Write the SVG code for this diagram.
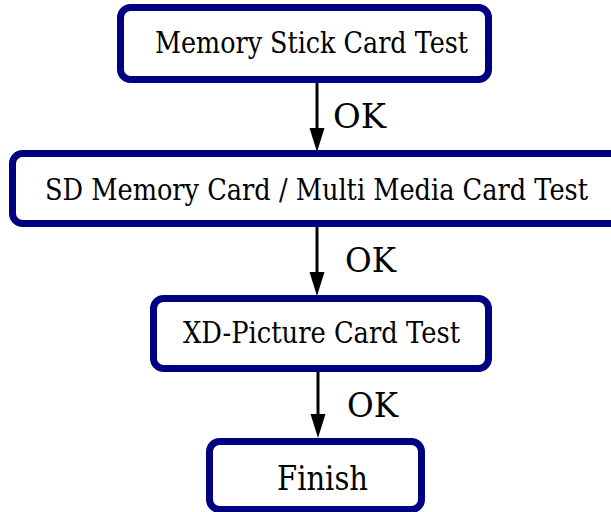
<svg xmlns="http://www.w3.org/2000/svg" width="611" height="512" viewBox="0 0 611 512">
<style>
.box{fill:#fff;stroke:#000080;stroke-width:7}
text{font-family:'DejaVu Serif', 'Liberation Serif', serif;fill:#000}
.lbl{font-size:29px}
.ok{font-size:33px}
.conn{stroke:#000;stroke-width:3;fill:none}
.head{fill:#000}
</style>
<rect width="611" height="512" fill="#fff"/>
<g id="connectors">
<line class="conn" x1="317" y1="83" x2="317" y2="132"/>
<polygon class="head" points="309.5,128 324.5,128 317,152"/>
<text class="ok" x="333" y="128" textLength="53" lengthAdjust="spacingAndGlyphs">OK</text>
<line class="conn" x1="317" y1="227" x2="317" y2="276"/>
<polygon class="head" points="309.5,272 324.5,272 317,296"/>
<text class="ok" x="345" y="272" textLength="51" lengthAdjust="spacingAndGlyphs">OK</text>
<line class="conn" x1="318" y1="372" x2="318" y2="418"/>
<polygon class="head" points="310.5,414 325.5,414 318,438"/>
<text class="ok" x="347" y="417" textLength="51" lengthAdjust="spacingAndGlyphs">OK</text>
</g>
<g id="node1">
<rect class="box" x="120.5" y="7.5" width="368" height="72" rx="10"/>
<text class="lbl" x="155" y="53" textLength="313" lengthAdjust="spacingAndGlyphs">Memory Stick Card Test</text>
</g>
<g id="node2">
<rect class="box" x="12.5" y="153.5" width="620" height="70" rx="10"/>
<text class="lbl" x="45" y="200" textLength="543" lengthAdjust="spacingAndGlyphs">SD Memory Card / Multi Media Card Test</text>
</g>
<g id="node3">
<rect class="box" x="153.5" y="298.5" width="335" height="70" rx="10"/>
<text class="lbl" x="183" y="343" textLength="277" lengthAdjust="spacingAndGlyphs">XD-Picture Card Test</text>
</g>
<g id="node4">
<rect class="box" x="209.5" y="441.5" width="212" height="68" rx="10"/>
<text class="ok" x="277" y="490" textLength="91" lengthAdjust="spacingAndGlyphs">Finish</text>
</g>
</svg>
